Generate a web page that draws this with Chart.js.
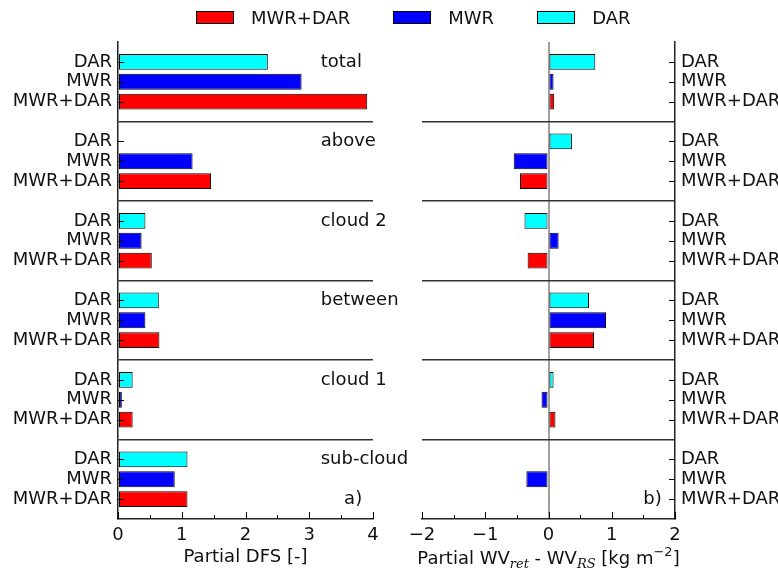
<!DOCTYPE html>
<html>
<head>
<meta charset="utf-8">
<script src="https://cdn.jsdelivr.net/npm/chart.js@4.4.0/dist/chart.umd.min.js"></script>
<style>
  body { margin: 0; background: #fff; }
  #wrap { position: relative; width: 778px; height: 575px; font-family: 'DejaVu Sans', sans-serif; color: #111; }
  #leftChart { position: absolute; left: 0; top: 0; }
  #rightChart { position: absolute; left: 400px; top: 0; }
  #legend { position: absolute; left: 196px; top: 7px; display: flex; align-items: center; font-size: 18px; }
  .sw { display: inline-block; width: 38px; height: 13px; box-sizing: border-box; border: 1px solid #000; margin-right: 17px; }
  .lab { margin-right: 43px; }
</style>
</head>
<body>
<div id="wrap">
  <canvas id="leftChart" width="420" height="575"></canvas>
  <canvas id="rightChart" width="378" height="575"></canvas>
  <div id="legend"></div>
</div>
<script>
// layers, top to bottom
const groups = ['total', 'above', 'cloud 2', 'between', 'cloud 1', 'sub-cloud'];
// row order inside each layer (top to bottom)
const rowNames = ['DAR', 'MWR', 'MWR+DAR'];
// legend / dataset order
const methods = ['MWR+DAR', 'MWR', 'DAR'];
const colors = ['#ff0000', '#0000ff', '#00ffff'];

// partial DFS [-]
const dfsBoth = [3.91, 1.46, 0.53, 0.65, 0.23, 1.09];
const dfsMWR  = [2.88, 1.17, 0.37, 0.43, 0.06, 0.89];
const dfsDAR  = [2.35, 0.0, 0.43, 0.64, 0.23, 1.09];

// partial WV_ret - WV_RS [kg m-2]
const wvBoth = [0.09, -0.45, -0.33, 0.72, 0.11, 0.02];
const wvMWR  = [0.08, -0.55, 0.16, 0.91, -0.11, -0.35];
const wvDAR  = [0.74, 0.37, -0.38, 0.64, 0.08, 0.0];

const dfsTicks = [0, 1, 2, 3, 4];
const wvTicks = [-2, -1, 0, 1, 2];

const FONT = '"DejaVu Sans", sans-serif';
const TEXT = '#111';

// legend
const legend = document.getElementById('legend');
methods.forEach((m, i) => {
    legend.innerHTML += '<span class="sw" style="background:' + colors[i] + '"></span><span class="lab">' + m + '</span>';
});

function rowPos(g, name) {
    return g * 4 + 1 + rowNames.indexOf(name);
}

function makeDatasets(valueLists) {
    return methods.map((m, i) => ({
        label: m,
        data: valueLists[i].map((v, g) => ({ x: v, y: rowPos(g, m) })),
        backgroundColor: colors[i],
        borderColor: '#000',
        borderWidth: 1,
        borderSkipped: false,
        grouped: false,
        barPercentage: 0.8,
        categoryPercentage: 1.0
    }));
}

function fmt(v) {
    return String(v).replace('-', '\u2212');
}

// inward ticks, layer names, panel letter and the rich axis title
function panelDecor(opts) {
    return {
        id: 'panelDecor',
        afterDatasetsDraw(chart) {
            const ctx = chart.ctx;
            const a = chart.chartArea;
            const x = chart.scales.x, y = chart.scales.y;
            ctx.save();
            ctx.strokeStyle = '#000';
            ctx.lineWidth = 1;
            ctx.beginPath();
            const x0 = opts.side === 'left' ? a.left : a.right;
            const dir = opts.side === 'left' ? 1 : -1;
            for (let p = 1; p < 24; p++) {
                if (p % 4 === 0) continue;
                const py = Math.round(y.getPixelForValue(p)) + 0.5;
                ctx.moveTo(x0, py);
                ctx.lineTo(x0 + dir * 6, py);
            }
            for (let v = x.min; v <= x.max + 1e-9; v += 0.5) {
                const px = Math.round(x.getPixelForValue(v)) + 0.5;
                const len = Number.isInteger(v) ? 7 : 4;
                ctx.moveTo(px, a.bottom);
                ctx.lineTo(px, a.bottom - len);
            }
            ctx.stroke();

            ctx.fillStyle = TEXT;
            ctx.font = '18px ' + FONT;
            ctx.textBaseline = 'middle';
            if (opts.names) {
                ctx.textAlign = 'left';
                groups.forEach((gname, g) => {
                    ctx.fillText(gname, x.getPixelForValue(opts.namesAt), y.getPixelForValue(g * 4 + 1));
                });
            }
            ctx.textAlign = 'right';
            ctx.fillText(opts.letter, x.getPixelForValue(opts.letterAt), y.getPixelForValue(23));

            if (opts.richTitle) {
                const segs = opts.richTitle;
                let w = 0;
                segs.forEach(s => {
                    ctx.font = s.font;
                    s.w = ctx.measureText(s.t).width;
                    w += s.w;
                });
                let cx = (a.left + a.right) / 2 - w / 2;
                const base = x.bottom - 7 - 10.8 + 6.5;
                ctx.textAlign = 'left';
                ctx.textBaseline = 'alphabetic';
                segs.forEach(s => {
                    ctx.font = s.font;
                    ctx.fillText(s.t, cx, base + (s.dy || 0));
                    cx += s.w;
                });
            }
            ctx.restore();
        }
    };
}

function makeOptions(side, xmin, xmax, xTicks, xTitle, zeroLine) {
    return {
        responsive: false,
        animation: false,
        indexAxis: 'y',
        layout: { padding: side === 'left' ? { top: 42, right: 47, left: 0, bottom: 0 } : { top: 42, left: 22, right: 0, bottom: 0 } },
        plugins: { legend: { display: false }, tooltip: { enabled: false } },
        scales: {
            x: {
                type: 'linear',
                min: xmin,
                max: xmax,
                afterBuildTicks: s => { s.ticks = xTicks.map(v => ({ value: v })); },
                afterFit: s => { s.height = 56; },
                ticks: { callback: v => fmt(v), color: TEXT, font: { family: FONT, size: 18 }, padding: 6, maxRotation: 0 },
                grid: {
                    drawTicks: false,
                    color: c => (zeroLine && c.tick && c.tick.value === 0) ? '#a0a0a0' : 'rgba(0,0,0,0)',
                    lineWidth: 2
                },
                border: { display: true, color: '#222', width: 1.5 },
                title: {
                    display: true,
                    text: xTitle,
                    color: xTitle ? TEXT : 'rgba(0,0,0,0)',
                    font: { family: FONT, size: 18 },
                    padding: { top: 0, bottom: 7 }
                }
            },
            y: {
                type: 'linear',
                position: side,
                min: 0,
                max: 24,
                reverse: true,
                offset: false,
                afterBuildTicks: s => { s.ticks = Array.from({ length: 25 }, (_, i) => ({ value: i })); },
                afterFit: s => { s.width = side === 'left' ? 118 : 103; },
                ticks: {
                    autoSkip: false,
                    padding: 6,
                    color: TEXT,
                    font: { family: FONT, size: 18 },
                    callback: v => (v % 4 === 0 ? '' : rowNames[(v % 4) - 1])
                },
                grid: {
                    offset: false,
                    drawTicks: false,
                    color: c => (c.tick && c.tick.value % 4 === 0 && c.tick.value > 0 && c.tick.value < 24) ? '#333' : 'rgba(0,0,0,0)',
                    lineWidth: 1.5
                },
                border: { display: true, color: '#222', width: 1.5 }
            }
        }
    };
}

new Chart(document.getElementById('leftChart'), {
    type: 'bar',
    data: { datasets: makeDatasets([dfsBoth, dfsMWR, dfsDAR]) },
    options: makeOptions('left', 0, 4, dfsTicks, 'Partial DFS [-]', false),
    plugins: [panelDecor({ side: 'left', names: true, namesAt: 3.18, letter: 'a)', letterAt: 3.83 })]
});

const base = '18px ' + FONT;
const small = 'italic 13px "DejaVu Serif", serif';
new Chart(document.getElementById('rightChart'), {
    type: 'bar',
    data: { datasets: makeDatasets([wvBoth, wvMWR, wvDAR]) },
    options: makeOptions('right', -2, 2, wvTicks, '', true),
    plugins: [panelDecor({
        side: 'right', names: false, letter: 'b)', letterAt: 1.79,
        richTitle: [
            { t: 'Partial WV', font: base },
            { t: 'ret', font: small, dy: 4 },
            { t: ' - WV', font: base },
            { t: 'RS', font: small, dy: 4 },
            { t: ' [kg m', font: base },
            { t: '\u22122', font: '13px ' + FONT, dy: -8 },
            { t: ']', font: base }
        ]
    })]
});
</script>
</body>
</html>
